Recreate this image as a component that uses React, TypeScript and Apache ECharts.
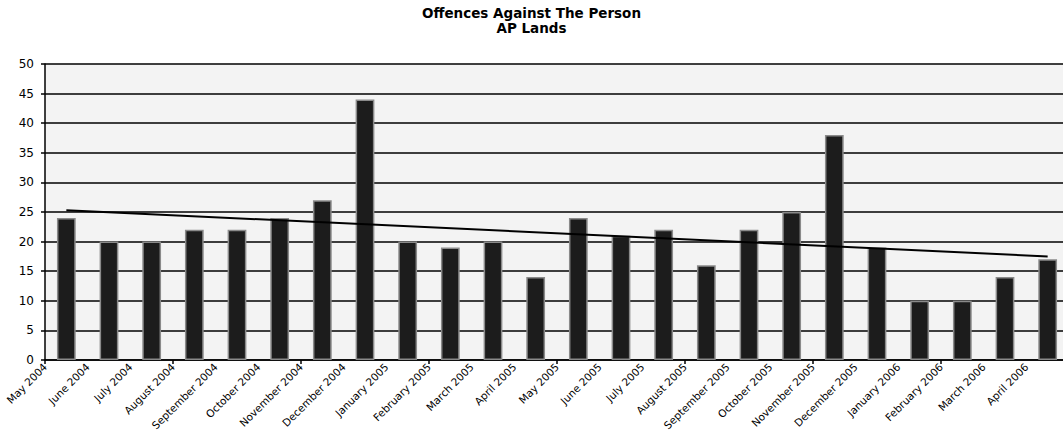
import React, { useEffect, useRef } from "react";
import * as echarts from "echarts";

const categories = [
  "May 2004", "June 2004", "July 2004", "August 2004", "September 2004", "October 2004",
  "November 2004", "December 2004", "January 2005", "February 2005", "March 2005", "April 2005",
  "May 2005", "June 2005", "July 2005", "August 2005", "September 2005", "October 2005",
  "November 2005", "December 2005", "January 2006", "February 2006", "March 2006", "April 2006",
];
const offences = [24, 20, 20, 22, 22, 24, 27, 44, 20, 19, 20, 14, 24, 21, 22, 16, 22, 25, 38, 19, 10, 10, 14, 17];
const trendEnds = [25.3, 17.5];
const yTicks = { min: 0, max: 50, interval: 5 };
const titleLines = ["Offences Against The Person", "AP Lands"];

export default function App() {
  const ref = useRef<HTMLDivElement>(null);
  useEffect(() => {
    if (!ref.current) return;
    const chart = echarts.init(ref.current, null, { renderer: "svg" });
    const trend = offences.map((_, i) =>
      i === 0 ? trendEnds[0] : i === offences.length - 1 ? trendEnds[1] : null
    );
    chart.setOption({
      animation: false,
      backgroundColor: "#ffffff",
      title: {
        text: titleLines.join("\n"),
        left: "center",
        top: 0,
        textStyle: {
          fontFamily: "'DejaVu Sans', sans-serif",
          fontWeight: "bold",
          fontSize: 13.5,
          lineHeight: 15,
          color: "#000",
        },
      },
      grid: {
        left: 45,
        right: -6,
        top: 64,
        bottom: 72,
        containLabel: false,
        outerBoundsMode: "none",
        show: true,
        backgroundColor: "#f3f3f3",
        borderWidth: 0,
      },
      xAxis: [
        {
          type: "category",
          data: categories,
          boundaryGap: true,
          axisLine: { show: true, lineStyle: { color: "#000", width: 1.5 } },
          axisTick: { show: true, length: 4, inside: false, lineStyle: { color: "#000", width: 1.5 } },
          axisLabel: { show: false },
          splitLine: { show: false },
        },
        {
          type: "category",
          data: [...categories, ""],
          boundaryGap: false,
          position: "bottom",
          axisLine: { show: false },
          axisTick: { show: false },
          axisLabel: {
            show: true,
            interval: 0,
            rotate: 45,
            margin: 5,
            fontFamily: "'DejaVu Sans', sans-serif",
            fontSize: 10.5,
            color: "#000",
          },
          splitLine: { show: false },
        },
      ],
      yAxis: {
        type: "value",
        min: yTicks.min,
        max: yTicks.max,
        interval: yTicks.interval,
        axisLine: { show: true, lineStyle: { color: "#000", width: 1.5 } },
        axisTick: { show: true, length: 4, lineStyle: { color: "#000", width: 1.5 } },
        axisLabel: {
          margin: 11,
          fontFamily: "'DejaVu Sans', sans-serif",
          fontSize: 12,
          color: "#000",
        },
        splitLine: { show: true, lineStyle: { color: "#000", width: 1.5 } },
      },
      series: [
        {
          type: "bar",
          xAxisIndex: 0,
          data: offences,
          barWidth: "44%",
          itemStyle: { color: "#1c1c1c", borderColor: "#8a8a8a", borderWidth: 1.5 },
          z: 2,
        },
        {
          type: "line",
          xAxisIndex: 0,
          data: trend,
          connectNulls: true,
          symbol: "none",
          lineStyle: { color: "#000", width: 2 },
          z: 3,
        },
      ],
    });
    return () => chart.dispose();
  }, []);
  return (
    <div
      ref={ref}
      style={{ position: "fixed", left: 0, top: 0, width: 1063, height: 432 }}
    />
  );
}
